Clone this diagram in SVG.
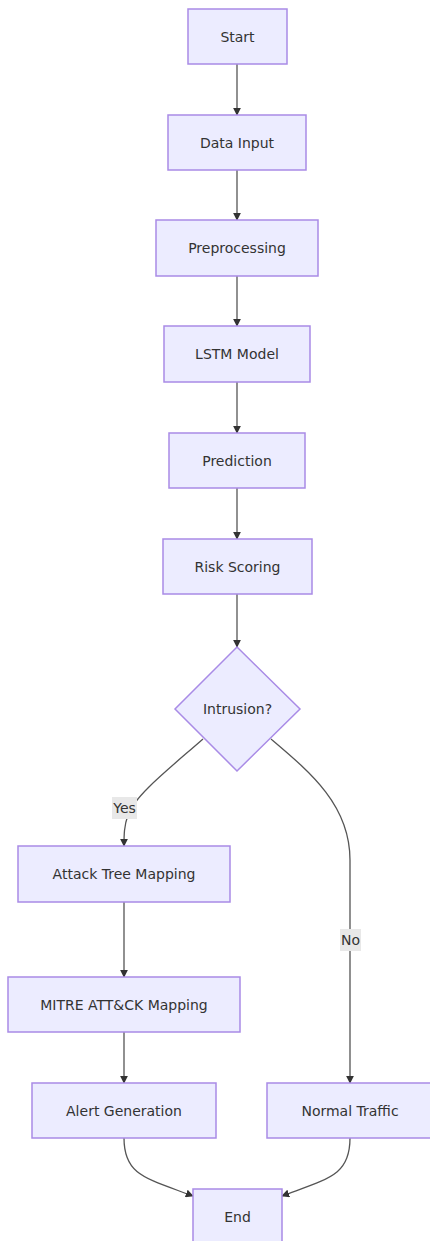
<svg xmlns="http://www.w3.org/2000/svg" width="430" height="1241" viewBox="0 0 430 1241">
<defs>
<marker id="arr" viewBox="0 0 10 10" refX="9" refY="5" markerWidth="8" markerHeight="8" markerUnits="userSpaceOnUse" orient="auto">
<path d="M0,0 L10,5 L0,10 z" fill="#333"/>
</marker>
</defs>
<style>
.node rect, .node polygon { fill: #ECECFF; stroke: #A98BE6; stroke-width: 1.5; }
.node text { font-family: "DejaVu Sans", Verdana, sans-serif; font-size: 14px; fill: #333; text-anchor: middle; dominant-baseline: central; }
.edge { fill: none; stroke: #555; stroke-width: 1.3; marker-end: url(#arr); }
.lbl rect { fill: #e8e8e8; }
.lbl text { font-family: "DejaVu Sans", Verdana, sans-serif; font-size: 14px; fill: #333; text-anchor: middle; dominant-baseline: central; }
</style>
<rect width="430" height="1241" fill="#ffffff"/>
<g id="connectors">
<path class="edge" d="M237,64 L237,115"/>
<path class="edge" d="M237,170 L237,220"/>
<path class="edge" d="M237,276 L237,326"/>
<path class="edge" d="M237,382 L237,433"/>
<path class="edge" d="M237,488 L237,539"/>
<path class="edge" d="M237,594 L237,647"/>
<path class="edge" d="M203,739 C170,768 135,795 128,815 C124,826 124,835 124,846"/>
<path class="edge" d="M271,739 C310,772 350,805 350,860 L350,1083"/>
<path class="edge" d="M124,1032 L124,1083"/>
<path class="edge" d="M124,902 L124,977"/>
<path class="edge" d="M124,1138 C124,1175 145,1178 193,1196"/>
<path class="edge" d="M350,1138 C350,1175 330,1178 282,1196"/>
<g class="lbl" id="label-yes"><rect x="112" y="797" width="25" height="22"/><text x="124.5" y="808">Yes</text></g>
<g class="lbl" id="label-no"><rect x="340" y="929" width="21" height="22"/><text x="350.5" y="940">No</text></g>
</g>
<g class="node" id="start"><rect x="188" y="9" width="99" height="55"/><text x="237.5" y="36.5">Start</text></g>
<g class="node" id="data-input"><rect x="168" y="115" width="138" height="55"/><text x="237" y="142.5">Data Input</text></g>
<g class="node" id="preprocessing"><rect x="156" y="220" width="162" height="56"/><text x="237" y="248">Preprocessing</text></g>
<g class="node" id="lstm-model"><rect x="164" y="326" width="146" height="56"/><text x="237" y="354">LSTM Model</text></g>
<g class="node" id="prediction"><rect x="169" y="433" width="136" height="55"/><text x="237" y="460.5">Prediction</text></g>
<g class="node" id="risk-scoring"><rect x="163" y="539" width="149" height="55"/><text x="237.5" y="566.5">Risk Scoring</text></g>
<g class="node" id="intrusion"><polygon points="237,647 300,709 237,771 175,709"/><text x="237.5" y="709">Intrusion?</text></g>
<g class="node" id="attack-tree"><rect x="18" y="846" width="212" height="56"/><text x="124" y="874">Attack Tree Mapping</text></g>
<g class="node" id="mitre"><rect x="8" y="977" width="232" height="55"/><text x="124" y="1004.5">MITRE ATT&amp;CK Mapping</text></g>
<g class="node" id="alert"><rect x="32" y="1083" width="184" height="55"/><text x="124" y="1110.5">Alert Generation</text></g>
<g class="node" id="normal"><rect x="267" y="1083" width="166" height="55"/><text x="350" y="1110.5">Normal Traffic</text></g>
<g class="node" id="end"><rect x="193" y="1189" width="89" height="56"/><text x="237.5" y="1217">End</text></g>
</svg>
